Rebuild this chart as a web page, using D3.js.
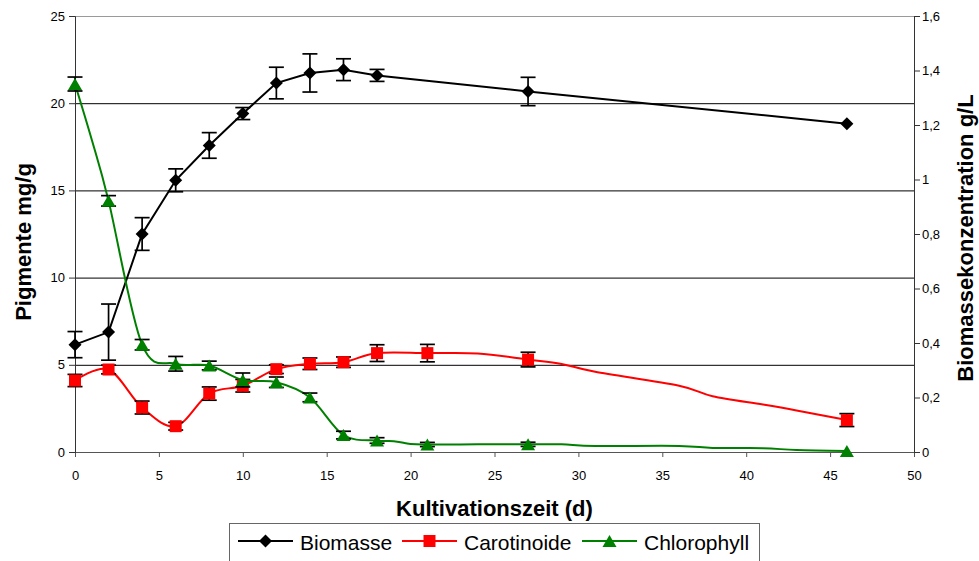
<!DOCTYPE html>
<html>
<head>
<meta charset="utf-8">
<script src="https://cdn.jsdelivr.net/npm/d3@7"></script>
<style>
  body { margin: 0; background: #fff; }
  svg { display: block; }
  text { font-family: "Liberation Sans", Arial, Helvetica, sans-serif; fill: #000; }
</style>
</head>
<body>
<svg id="chart" width="979" height="561"></svg>
<script>
// Biomass (g/L, right axis)
const biomasseDays = [0, 2, 4, 6, 8, 10, 12, 14, 16, 18, 27, 46];
const biomasse     = [0.394, 0.440, 0.800, 0.997, 1.125, 1.242, 1.354, 1.391, 1.403, 1.382, 1.323, 1.205];
const biomasseErr  = [0.048, 0.103, 0.060, 0.042, 0.047, 0.022, 0.058, 0.070, 0.040, 0.022, 0.052, 0];

// Pigments (mg/g, left axis), measured days with markers
const pigmentDays   = [0, 2, 4, 6, 8, 10, 12, 14, 16, 18, 21, 27, 46];
const carotinoide   = [4.10, 4.73, 2.55, 1.48, 3.35, 3.80, 4.75, 5.06, 5.15, 5.67, 5.67, 5.30, 1.83];
const carotinoidErr = [0.35, 0.25, 0.37, 0.22, 0.38, 0.36, 0.25, 0.33, 0.30, 0.48, 0.50, 0.42, 0.37];
const chlorophyll   = [21.1, 14.4, 6.15, 5.06, 4.96, 4.13, 4.00, 3.13, 0.97, 0.66, 0.43, 0.44, 0.06];
const chlorophyllErr= [0.40, 0.30, 0.30, 0.42, 0.25, 0.40, 0.30, 0.25, 0.22, 0.16, 0.12, 0.12, 0];

// Additional line vertices without markers
const carotinoideLineDays = [24, 29, 31, 36, 38, 41, 43];
const carotinoideLine     = [5.65, 5.05, 4.60, 3.80, 3.20, 2.72, 2.38];
const chlorophyllLineDays = [1, 19, 20, 24, 29, 31, 36, 38, 41, 43];
const chlorophyllLine     = [17.9, 0.62, 0.46, 0.44, 0.44, 0.35, 0.35, 0.23, 0.22, 0.11];

// Axis ticks
const xTicks = [0, 5, 10, 15, 20, 25, 30, 35, 40, 45, 50];
const leftTicks = [0, 5, 10, 15, 20, 25];
const rightTicks = [0, 0.2, 0.4, 0.6, 0.8, 1, 1.2, 1.4, 1.6];
const rightTickLabels = ["0", "0,2", "0,4", "0,6", "0,8", "1", "1,2", "1,4", "1,6"];
const gridValues = [5, 10, 15, 20];

const seriesNames = ["Biomasse", "Carotinoide", "Chlorophyll"];
const seriesColors = ["#000000", "#ff0000", "#008000"];

const svg = d3.select("#chart");
const plotLeft = 75, plotRight = 914, plotTop = 16, plotBottom = 452;

const x = d3.scaleLinear().domain([0, 50]).range([plotLeft, plotRight]);
const yL = d3.scaleLinear().domain([0, 25]).range([plotBottom, plotTop]);
const yR = d3.scaleLinear().domain([0, 1.6]).range([plotBottom, plotTop]);

// gridlines
svg.append("g")
  .attr("transform", `translate(${plotLeft},0)`)
  .call(d3.axisLeft(yL).tickValues(gridValues).tickSize(-(plotRight - plotLeft)).tickFormat(""))
  .call(g => g.select(".domain").remove())
  .call(g => g.selectAll("line").attr("stroke", "#000"));

// top border of plot area
svg.append("line")
  .attr("x1", plotLeft).attr("x2", plotRight)
  .attr("y1", yL(25) + 0.5).attr("y2", yL(25) + 0.5)
  .attr("stroke", "#9a9a9a");

// axes
const fontAxis = 13;
const gx = svg.append("g")
  .attr("transform", `translate(0,${plotBottom})`)
  .call(d3.axisBottom(x).tickValues(xTicks).tickSize(5).tickPadding(14).tickFormat(d => d));
gx.select(".domain").attr("stroke", "#555");
gx.selectAll(".tick line").attr("stroke", "#555");

const gl = svg.append("g")
  .attr("transform", `translate(${plotLeft},0)`)
  .call(d3.axisLeft(yL).tickValues(leftTicks).tickSize(6).tickPadding(4).tickFormat(d => d));
gl.select(".domain").attr("stroke", "#333");
gl.selectAll(".tick line").attr("stroke", "#333");

const gr = svg.append("g")
  .attr("transform", `translate(${plotRight},0)`)
  .call(d3.axisRight(yR).tickValues(rightTicks).tickSize(6).tickPadding(2)
    .tickFormat((d, i) => rightTickLabels[i]));
gr.select(".domain").attr("stroke", "#333");
gr.selectAll(".tick line").attr("stroke", "#333");

svg.selectAll(".tick text")
  .attr("font-size", fontAxis)
  .attr("font-family", '"Liberation Sans", Arial, sans-serif')
  .attr("fill", "#000");

// axis titles
svg.append("text")
  .attr("x", (plotLeft + plotRight) / 2).attr("y", 516)
  .attr("text-anchor", "middle")
  .attr("font-size", 22).attr("font-weight", "bold")
  .text("Kultivationszeit (d)");

svg.append("text")
  .attr("transform", "translate(31,242) rotate(-90)")
  .attr("text-anchor", "middle")
  .attr("font-size", 22).attr("font-weight", "bold")
  .text("Pigmente mg/g");

svg.append("text")
  .attr("transform", "translate(973,238) rotate(-90)")
  .attr("text-anchor", "middle")
  .attr("font-size", 22).attr("font-weight", "bold")
  .text("Biomassekonzentration g/L");

// marker shapes
const diamondPath = "M0,-6.5L6.5,0L0,6.5L-6.5,0Z";
const squarePath = "M-6,-6H6V6H-6Z";
const trianglePath = "M0,-6L7,6L-7,6Z";
const markerPaths = [diamondPath, squarePath, trianglePath];

function drawSeries(days, vals, errs, lineDays, lineVals, y, color, marker, curve) {
  const g = svg.append("g");
  const pts = days.map((d, i) => [d, vals[i]])
    .concat(lineDays.map((d, i) => [d, lineVals[i]]))
    .sort((a, b) => a[0] - b[0]);
  g.append("path")
    .attr("d", d3.line().x(p => x(p[0])).y(p => y(p[1])).curve(curve)(pts))
    .attr("fill", "none")
    .attr("stroke", color)
    .attr("stroke-width", 2);

  const eb = g.append("g").attr("stroke", "#000").attr("stroke-width", 1.7);
  days.forEach((d, i) => {
    if (!errs[i]) return;
    const cx = x(d), y1 = y(vals[i] + errs[i]), y2 = y(vals[i] - errs[i]);
    eb.append("line").attr("x1", cx).attr("x2", cx).attr("y1", y1).attr("y2", y2);
    eb.append("line").attr("x1", cx - 7.5).attr("x2", cx + 7.5).attr("y1", y1).attr("y2", y1);
    eb.append("line").attr("x1", cx - 7.5).attr("x2", cx + 7.5).attr("y1", y2).attr("y2", y2);
  });

  g.selectAll(null).data(days).join("path")
    .attr("d", marker)
    .attr("transform", (d, i) => `translate(${x(d)},${y(vals[i])})`)
    .attr("fill", color);
}

drawSeries(biomasseDays, biomasse, biomasseErr, [], [], yR, seriesColors[0], markerPaths[0], d3.curveLinear);
drawSeries(pigmentDays, carotinoide, carotinoidErr, carotinoideLineDays, carotinoideLine, yL, seriesColors[1], markerPaths[1], d3.curveCardinal.tension(0));
drawSeries(pigmentDays, chlorophyll, chlorophyllErr, chlorophyllLineDays, chlorophyllLine, yL, seriesColors[2], markerPaths[2], d3.curveCardinal.tension(0));

// legend
const legend = svg.append("g");
legend.append("rect")
  .attr("x", 229.5).attr("y", 523.5).attr("width", 530).attr("height", 50)
  .attr("fill", "#fff").attr("stroke", "#666");
const legendX = [238, 402, 582];
seriesNames.forEach((name, i) => {
  const lx = legendX[i], ly = 541;
  legend.append("line")
    .attr("x1", lx).attr("x2", lx + 55).attr("y1", ly).attr("y2", ly)
    .attr("stroke", seriesColors[i]).attr("stroke-width", 2);
  legend.append("path")
    .attr("d", markerPaths[i])
    .attr("transform", `translate(${lx + 27.5},${ly})`)
    .attr("fill", seriesColors[i]);
  legend.append("text")
    .attr("x", lx + 62).attr("y", 549.5)
    .attr("font-size", 21)
    .text(name);
});
</script>
</body>
</html>
